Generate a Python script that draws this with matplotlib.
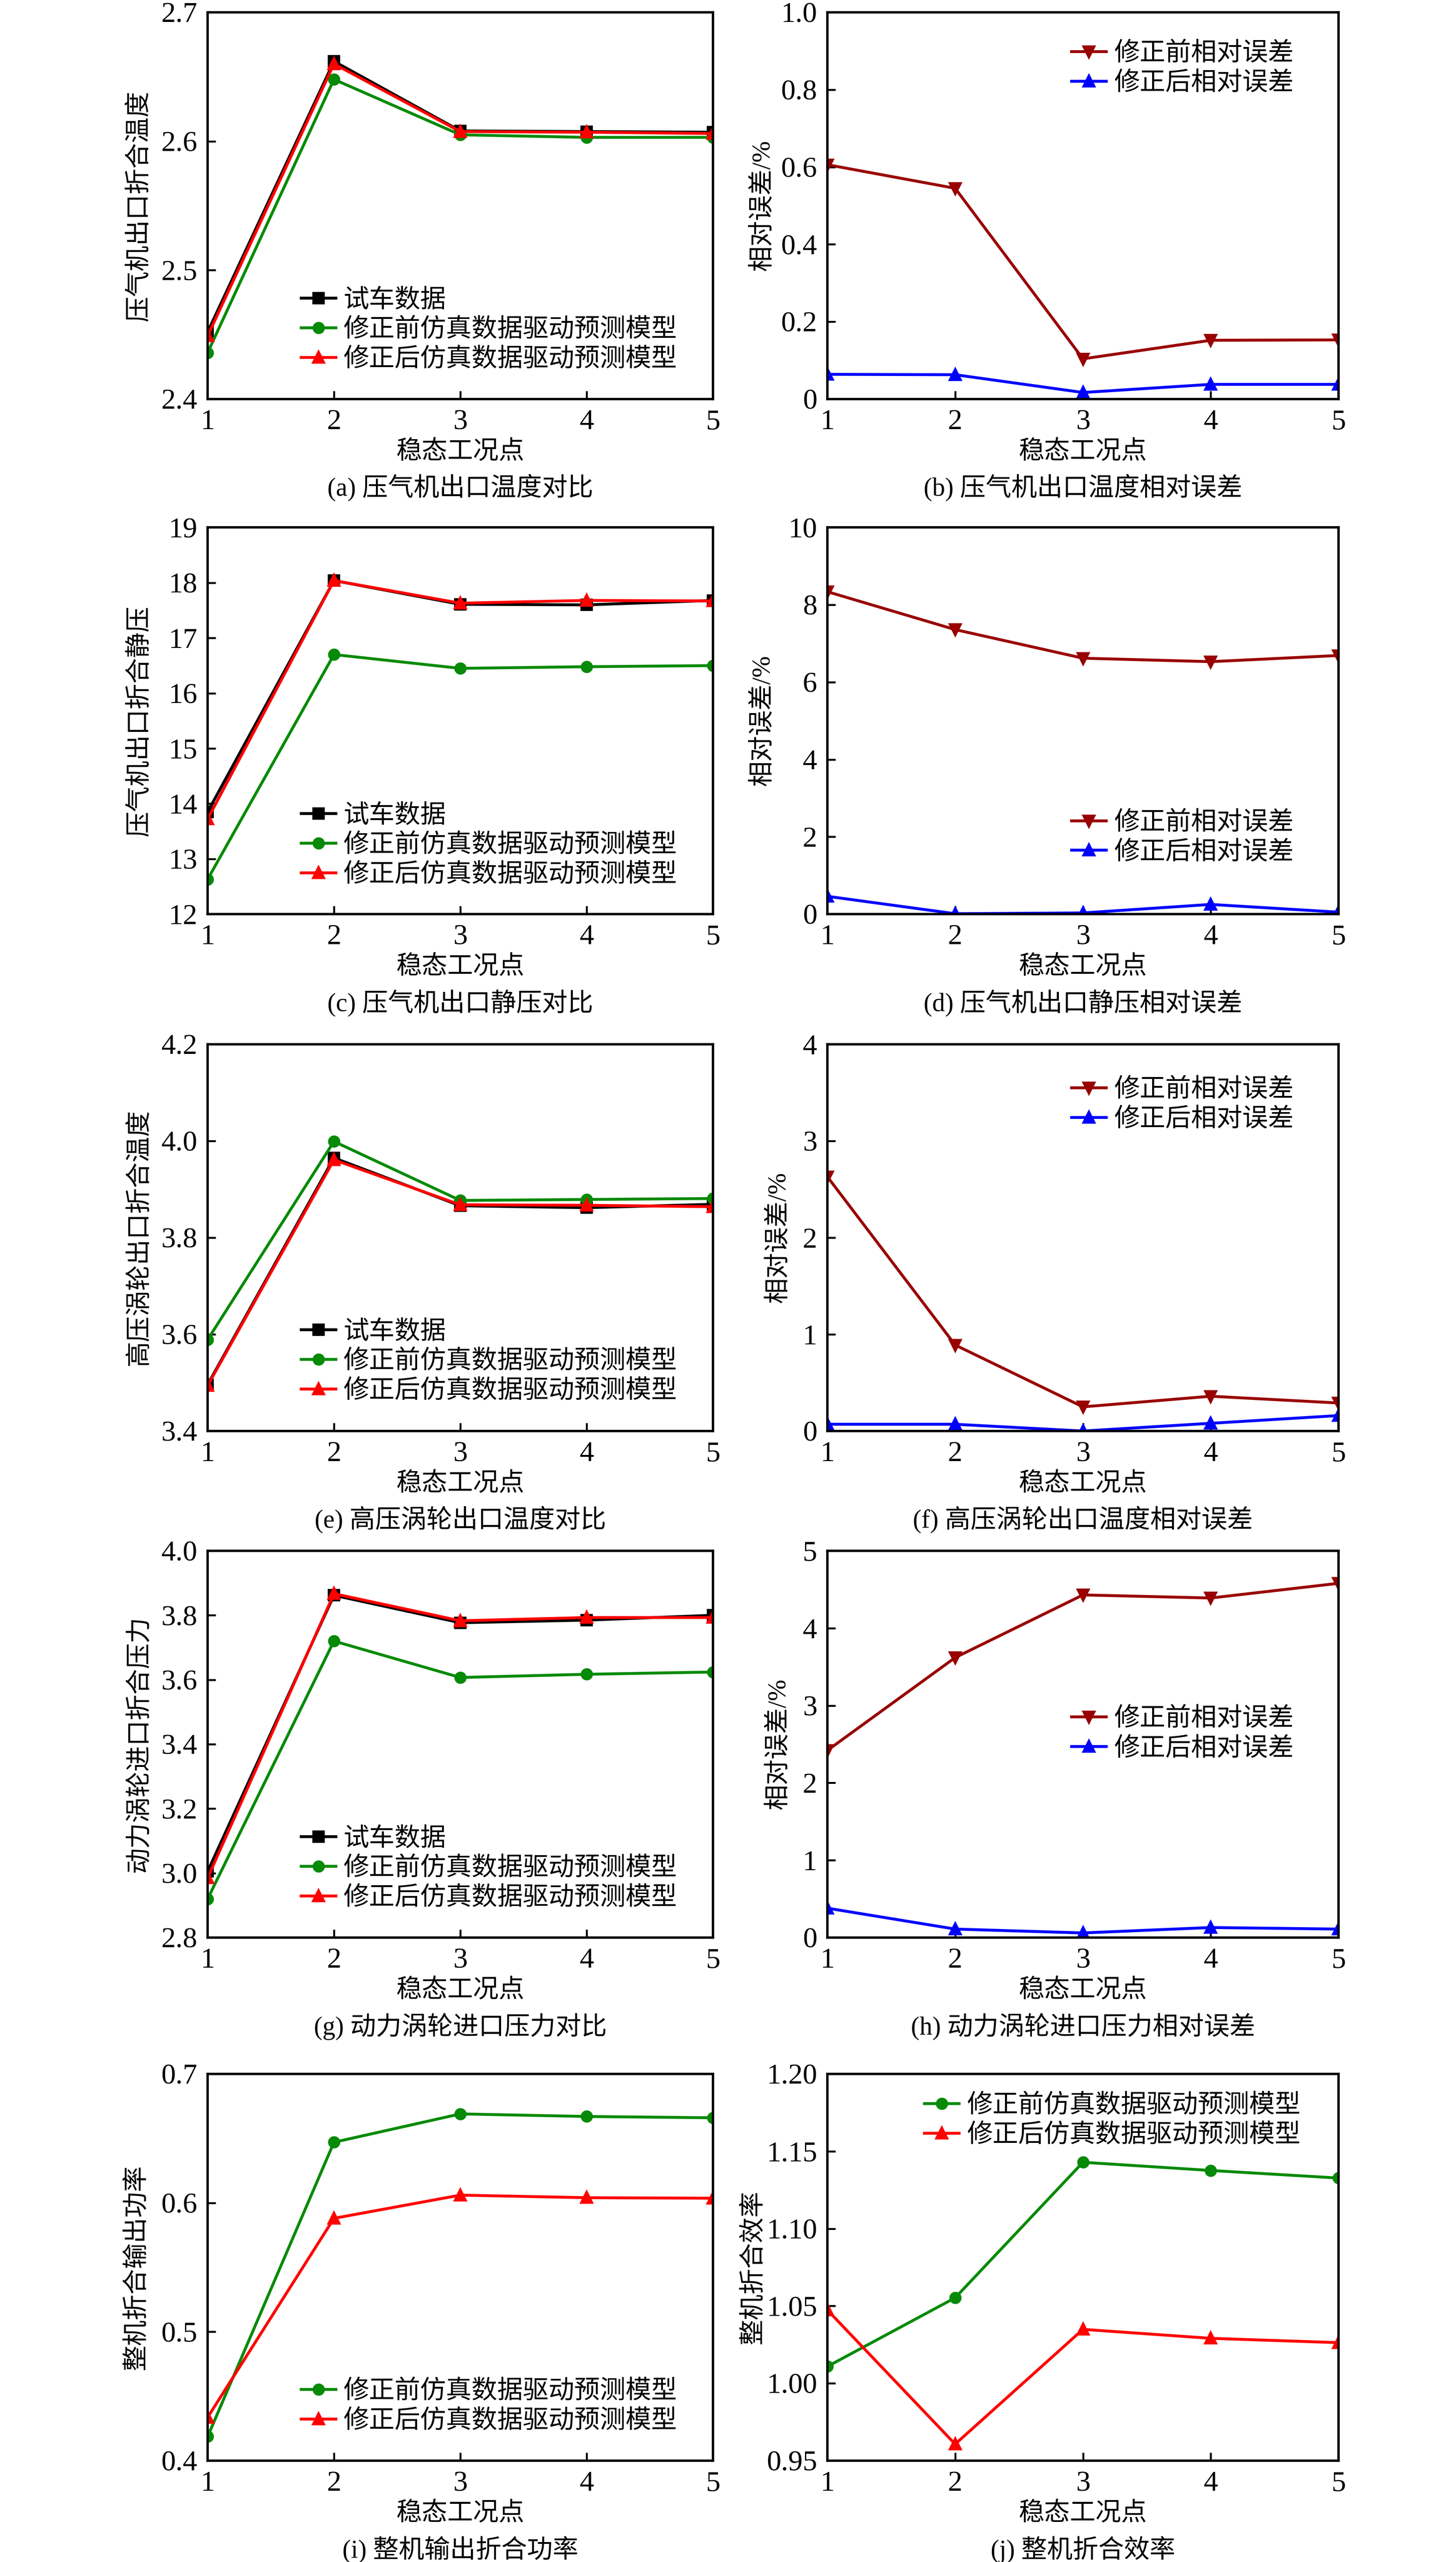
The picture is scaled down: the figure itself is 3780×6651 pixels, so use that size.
import matplotlib
matplotlib.use("Agg")
import matplotlib.pyplot as plt

plt.rcParams['font.family'] = ['Liberation Serif', 'Noto Sans CJK SC']
plt.rcParams['font.size'] = 8
plt.rcParams['axes.unicode_minus'] = False

# ------------------------------------------------------------------
# data
# ------------------------------------------------------------------
points = [1, 2, 3, 4, 5]

# (a) compressor outlet corrected temperature
a_test = [2.452, 2.662, 2.608, 2.6075, 2.607]
a_before = [2.436, 2.648, 2.605, 2.603, 2.603]
a_after = [2.449, 2.660, 2.6075, 2.607, 2.606]
# (b) relative error
b_before = [0.606, 0.545, 0.104, 0.152, 0.153]
b_after = [0.064, 0.063, 0.017, 0.038, 0.038]

# (c) compressor outlet corrected static pressure
c_test = [13.85, 18.04, 17.61, 17.60, 17.68]
c_before = [12.63, 16.70, 16.45, 16.48, 16.50]
c_after = [13.72, 18.04, 17.63, 17.68, 17.67]
# (d)
d_before = [8.34, 7.36, 6.62, 6.53, 6.69]
d_after = [0.46, 0.01, 0.03, 0.25, 0.05]

# (e) HP turbine outlet corrected temperature
e_test = [3.496, 3.965, 3.866, 3.862, 3.869]
e_before = [3.589, 3.999, 3.877, 3.879, 3.881]
e_after = [3.494, 3.961, 3.868, 3.867, 3.864]
# (f)
f_before = [2.63, 0.89, 0.25, 0.36, 0.29]
f_after = [0.07, 0.07, 0.00, 0.08, 0.16]

# (g) power turbine inlet corrected pressure
g_test = [3.005, 3.862, 3.777, 3.785, 3.800]
g_before = [2.920, 3.720, 3.607, 3.617, 3.624]
g_after = [2.985, 3.867, 3.783, 3.793, 3.793]
# (h)
h_before = [2.42, 3.62, 4.43, 4.39, 4.58]
h_after = [0.38, 0.11, 0.06, 0.13, 0.11]

# (i) corrected output power
i_before = [0.4187, 0.647, 0.669, 0.667, 0.666]
i_after = [0.4336, 0.588, 0.606, 0.604, 0.6036]
# (j) corrected efficiency
j_before = [1.0109, 1.0553, 1.1429, 1.1376, 1.1327]
j_after = [1.0474, 0.9607, 1.0349, 1.0291, 1.0263]

lab_test = "试车数据"
lab_before = "修正前仿真数据驱动预测模型"
lab_after = "修正后仿真数据驱动预测模型"
lab_err_before = "修正前相对误差"
lab_err_after = "修正后相对误差"
xlab = "稳态工况点"
errlab = "相对误差/%"

# ------------------------------------------------------------------
W, H = 3780, 6651
fig = plt.figure(figsize=(W / 600, H / 600), dpi=600)

col_x = [(539, 1312), (2148, 1327)]
row_y = [(32, 1036), (1369.5, 2373), (2711, 3715), (4026, 5030), (5384, 6388)]


def make_ax(r, c):
    x0, w = col_x[c]
    top, bot = row_y[r]
    ax = fig.add_axes([x0 / W, 1 - bot / H, w / W, (bot - top) / H])
    for s in ax.spines.values():
        s.set_linewidth(0.75)
    ax.tick_params(direction='in', length=2.5, width=0.6, pad=3.2,
                   top=False, right=False, labelsize=9)
    ax.set_xlim(1, 5)
    ax.set_xticks(points)
    return ax


def finish(ax, ylabel, ylx, caption, ylim, yticks, yfmt):
    ax.set_ylim(*ylim)
    ax.set_yticks(yticks)
    ax.set_yticklabels([yfmt(v) for v in yticks])
    ax.set_ylabel(ylabel, fontsize=8, va='center')
    ax.yaxis.set_label_coords(ylx, 0.5)
    ax.set_xlabel(xlab, fontsize=8, va='center')
    ax.xaxis.set_label_coords(0.5, -0.137)
    ax.text(0.5, -0.23, caption, transform=ax.transAxes,
            ha='center', va='center', fontsize=8)


def leg(ax, x, y):
    ax.legend(loc='center left', bbox_to_anchor=(x, y), frameon=False,
              borderpad=0, borderaxespad=0, handlelength=1.35,
              handletextpad=0.3, labelspacing=0.22, fontsize=8)


LW = 0.9
MS = 2.8


def cmp_plot(ax, test, before, after):
    if test is not None:
        ax.plot(points, test, color='black', marker='s', lw=LW, ms=MS, label=lab_test)
    ax.plot(points, before, color='#078a07', marker='o', lw=LW, ms=MS, label=lab_before)
    ax.plot(points, after, color='#ff0000', marker='^', lw=LW, ms=MS, label=lab_after)


def err_plot(ax, before, after):
    ax.plot(points, before, color='#990000', marker='v', lw=LW, ms=MS, label=lab_err_before)
    ax.plot(points, after, color='#0000ff', marker='^', lw=LW, ms=MS, label=lab_err_after)


f1 = lambda v: "%.1f" % v
fi = lambda v: "%d" % v
f0 = lambda v: "0" if v == 0 else "%.1f" % v
f2 = lambda v: "%.2f" % v

# row 1
ax = make_ax(0, 0)
cmp_plot(ax, a_test, a_before, a_after)
finish(ax, "压气机出口折合温度", -0.135, "(a) 压气机出口温度对比",
       (2.4, 2.7), [2.4, 2.5, 2.6, 2.7], f1)
leg(ax, 0.185, 0.178)

ax = make_ax(0, 1)
err_plot(ax, b_before, b_after)
finish(ax, errlab, -0.127, "(b) 压气机出口温度相对误差",
       (0, 1.0), [0, 0.2, 0.4, 0.6, 0.8, 1.0], f0)
leg(ax, 0.478, 0.854)

# row 2
ax = make_ax(1, 0)
cmp_plot(ax, c_test, c_before, c_after)
finish(ax, "压气机出口折合静压", -0.135, "(c) 压气机出口静压对比",
       (12, 19), list(range(12, 20)), fi)
leg(ax, 0.185, 0.177)

ax = make_ax(1, 1)
err_plot(ax, d_before, d_after)
finish(ax, errlab, -0.127, "(d) 压气机出口静压相对误差",
       (0, 10), [0, 2, 4, 6, 8, 10], fi)
leg(ax, 0.478, 0.197)

# row 3
ax = make_ax(2, 0)
cmp_plot(ax, e_test, e_before, e_after)
finish(ax, "高压涡轮出口折合温度", -0.135, "(e) 高压涡轮出口温度对比",
       (3.4, 4.2), [3.4, 3.6, 3.8, 4.0, 4.2], f1)
leg(ax, 0.185, 0.179)

ax = make_ax(2, 1)
err_plot(ax, f_before, f_after)
finish(ax, errlab, -0.096, "(f) 高压涡轮出口温度相对误差",
       (0, 4), [0, 1, 2, 3, 4], fi)
leg(ax, 0.478, 0.843)

# row 4
ax = make_ax(3, 0)
cmp_plot(ax, g_test, g_before, g_after)
finish(ax, "动力涡轮进口折合压力", -0.135, "(g) 动力涡轮进口压力对比",
       (2.8, 4.0), [2.8, 3.0, 3.2, 3.4, 3.6, 3.8, 4.0], f1)
leg(ax, 0.185, 0.178)

ax = make_ax(3, 1)
err_plot(ax, h_before, h_after)
finish(ax, errlab, -0.096, "(h) 动力涡轮进口压力相对误差",
       (0, 5), [0, 1, 2, 3, 4, 5], fi)
leg(ax, 0.478, 0.526)

# row 5
ax = make_ax(4, 0)
cmp_plot(ax, None, i_before, i_after)
finish(ax, "整机折合输出功率", -0.14, "(i) 整机输出折合功率",
       (0.4, 0.7), [0.4, 0.5, 0.6, 0.7], f1)
leg(ax, 0.185, 0.140)

ax = make_ax(4, 1)
cmp_plot(ax, None, j_before, j_after)
finish(ax, "整机折合效率", -0.145, "(j) 整机折合效率",
       (0.95, 1.20), [0.95, 1.00, 1.05, 1.10, 1.15, 1.20], f2)
leg(ax, 0.19, 0.879)

fig.savefig("out.png", dpi=600)
